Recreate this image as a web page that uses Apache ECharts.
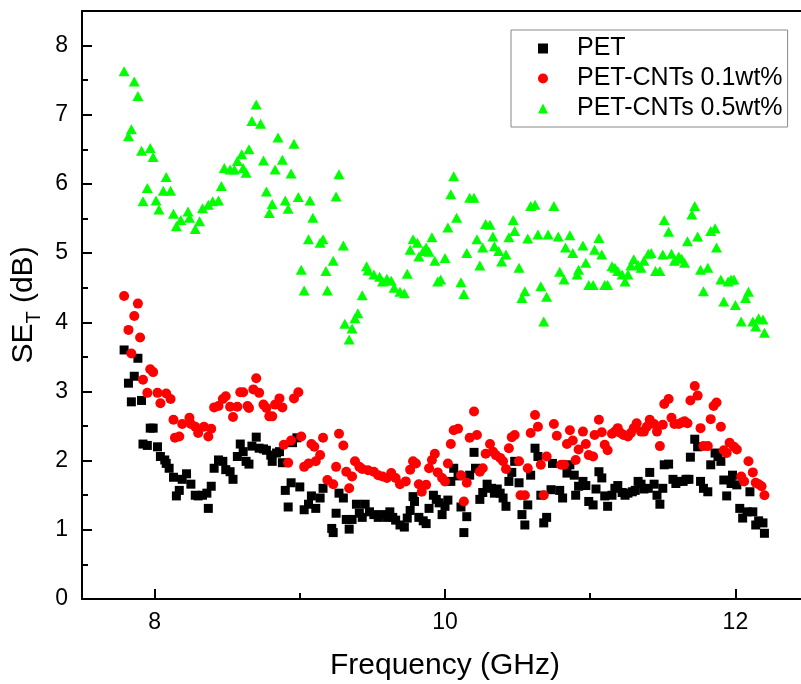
<!DOCTYPE html>
<html>
<head>
<meta charset="utf-8">
<script src="https://cdn.jsdelivr.net/npm/echarts@6/dist/echarts.min.js"></script>
<style>
html,body{margin:0;padding:0;background:#fff;}
#chart{width:801px;height:684px;}
</style>
</head>
<body>
<div id="chart"></div>
<script>
// ---------- data ----------
const seriesNames = ['PET', 'PET-CNTs 0.1wt%', 'PET-CNTs 0.5wt%'];

const petX = [7.79,7.82,7.84,7.86,7.885,7.91,7.92,7.95,7.97,7.99,8.02,8.04,8.07,8.08,8.10,8.13,8.15,8.17,8.19,8.22,8.25,8.28,8.30,8.33,8.36,8.37,8.39,8.41,8.44,8.47,8.49,8.52,8.54,8.57,8.59,8.61,8.63,8.65,8.67,8.70,8.72,8.75,8.77,8.80,8.81,8.84,8.86,8.88,8.90,8.92,8.94,8.95,8.98,9.00,9.03,9.06,9.08,9.11,9.14,9.16,9.22,9.23,9.25,9.27,9.30,9.32,9.34,9.36,9.39,9.41,9.43,9.45,9.48,9.51,9.54,9.57,9.60,9.62,9.64,9.66,9.69,9.72,9.74,9.76,9.78,9.79,9.82,9.85,9.87,9.89,9.92,9.94,9.96,9.98,10.00,10.02,10.04,10.06,10.09,10.11,10.13,10.15,10.17,10.20,10.21,10.24,10.26,10.29,10.32,10.34,10.36,10.38,10.40,10.42,10.44,10.46,10.48,10.51,10.53,10.55,10.57,10.59,10.62,10.64,10.66,10.68,10.70,10.73,10.74,10.79,10.81,10.84,10.86,10.89,10.90,10.92,10.95,10.97,10.99,11.02,11.04,11.06,11.08,11.10,11.12,11.15,11.17,11.19,11.22,11.24,11.26,11.29,11.31,11.33,11.35,11.37,11.40,11.41,11.44,11.46,11.48,11.50,11.51,11.54,11.57,11.59,11.61,11.64,11.66,11.68,11.69,11.72,11.74,11.76,11.78,11.81,11.83,11.86,11.88,11.90,11.92,11.94,11.97,11.98,12.01,12.03,12.05,12.08,12.10,12.12,12.14,12.16,12.19,12.20];
const petY = [3.60,3.12,2.85,3.22,3.48,2.87,2.24,2.22,2.47,2.47,2.20,2.06,2.01,1.96,1.89,1.76,1.49,1.57,1.73,1.81,1.66,1.50,1.49,1.50,1.53,1.31,1.63,1.89,2.01,1.99,1.87,1.84,1.73,2.06,2.24,2.13,1.99,1.95,2.21,2.34,2.18,2.17,2.15,2.08,1.99,2.11,2.13,1.97,1.57,1.33,1.68,2.26,2.33,1.62,1.29,1.37,1.49,1.31,1.46,1.60,1.02,0.96,1.24,1.53,1.46,1.15,1.01,1.15,1.37,1.24,1.18,1.37,1.26,1.22,1.18,1.22,1.18,1.26,1.18,1.14,1.07,1.04,1.17,1.28,1.48,1.41,1.18,1.13,1.09,1.31,1.50,1.44,1.39,1.22,1.34,1.43,1.70,1.89,1.78,1.33,0.96,1.19,1.79,2.12,1.89,1.44,1.54,1.66,1.60,1.53,1.59,1.53,1.46,1.34,1.70,1.83,1.99,1.68,1.22,1.07,1.36,1.79,2.18,2.06,1.50,1.10,1.18,1.58,1.96,1.57,1.46,1.82,1.94,1.79,1.50,1.63,1.70,1.64,1.41,1.36,1.59,1.84,1.75,1.49,1.34,1.50,1.60,1.64,1.54,1.50,1.53,1.55,1.57,1.70,1.66,1.59,1.60,1.83,1.66,1.50,1.37,1.60,1.94,1.95,1.73,1.67,1.70,1.70,1.73,1.73,2.05,2.31,2.20,1.70,1.60,1.55,1.94,2.11,2.06,1.99,1.72,1.49,1.67,1.79,1.65,1.31,1.17,1.26,1.55,1.26,1.07,1.13,1.10,0.95];

const cnt01X = [7.79,7.82,7.84,7.86,7.885,7.90,7.92,7.95,7.97,7.99,8.02,8.04,8.08,8.11,8.13,8.14,8.17,8.19,8.24,8.25,8.28,8.30,8.34,8.37,8.39,8.41,8.44,8.47,8.49,8.52,8.54,8.57,8.59,8.61,8.64,8.65,8.68,8.70,8.72,8.75,8.77,8.79,8.81,8.83,8.86,8.88,8.89,8.92,8.94,8.96,8.99,9.01,9.03,9.06,9.08,9.10,9.11,9.14,9.16,9.19,9.23,9.25,9.27,9.30,9.32,9.34,9.36,9.38,9.41,9.43,9.47,9.51,9.54,9.57,9.60,9.63,9.66,9.69,9.73,9.76,9.78,9.80,9.82,9.84,9.87,9.89,9.91,9.93,9.95,9.98,10.00,10.02,10.04,10.06,10.09,10.11,10.13,10.15,10.17,10.20,10.22,10.24,10.26,10.28,10.31,10.33,10.35,10.38,10.40,10.42,10.44,10.46,10.48,10.51,10.52,10.55,10.57,10.59,10.62,10.64,10.66,10.68,10.70,10.75,10.77,10.80,10.82,10.84,10.86,10.88,10.90,10.92,10.95,10.97,10.99,11.02,11.03,11.06,11.08,11.10,11.12,11.15,11.17,11.19,11.21,11.23,11.26,11.28,11.30,11.32,11.35,11.37,11.39,11.41,11.44,11.46,11.48,11.50,11.51,11.54,11.56,11.58,11.61,11.63,11.65,11.67,11.69,11.72,11.74,11.76,11.78,11.81,11.83,11.85,11.87,11.90,11.92,11.94,11.96,11.99,12.01,12.04,12.06,12.09,12.12,12.14,12.16,12.18,12.20];
const cnt01Y = [4.38,3.89,3.55,4.09,4.27,3.78,3.17,2.98,3.32,3.28,2.98,2.83,2.97,2.89,2.59,2.33,2.35,2.53,2.62,2.53,2.49,2.40,2.49,2.35,2.46,2.77,2.79,2.89,2.93,2.78,2.63,2.78,2.99,2.99,2.79,2.76,3.03,3.19,2.98,2.81,2.76,2.64,2.64,2.81,2.90,2.77,2.23,1.97,2.29,2.90,2.99,2.35,1.91,1.96,2.24,2.20,1.99,2.08,2.33,1.72,1.66,1.91,2.39,2.22,1.84,1.60,1.77,1.99,1.91,1.88,1.86,1.84,1.79,1.77,1.75,1.82,1.75,1.66,1.70,1.87,1.99,1.96,1.66,1.55,1.65,1.89,2.01,2.10,1.83,1.75,1.70,1.96,2.24,2.44,2.46,1.79,1.41,1.68,2.33,2.71,2.37,1.84,1.89,2.10,2.24,2.13,2.08,2.04,1.99,1.88,2.18,2.34,2.37,1.99,1.50,1.50,1.89,2.40,2.66,2.49,1.94,1.50,2.06,2.53,2.36,1.94,1.94,2.24,2.44,2.29,2.01,2.16,2.42,2.24,2.08,2.06,2.37,2.59,2.41,2.23,2.15,2.39,2.42,2.47,2.40,2.37,2.35,2.40,2.47,2.54,2.42,2.42,2.49,2.59,2.53,2.42,2.21,2.52,2.82,2.89,2.62,2.53,2.53,2.55,2.57,2.54,2.87,3.08,2.94,2.47,2.21,2.21,2.60,2.79,2.84,2.49,2.15,2.11,2.26,2.20,2.16,1.77,1.70,1.99,1.83,1.68,1.66,1.63,1.50];

const cnt05X = [7.79,7.82,7.84,7.86,7.885,7.91,7.92,7.95,7.97,7.99,8.01,8.03,8.06,8.08,8.11,8.13,8.15,8.18,8.23,8.24,8.28,8.31,8.33,8.37,8.40,8.44,8.46,8.48,8.52,8.55,8.57,8.60,8.61,8.63,8.65,8.67,8.70,8.73,8.75,8.77,8.79,8.81,8.83,8.85,8.88,8.90,8.92,8.94,8.96,8.99,9.01,9.03,9.06,9.07,9.09,9.14,9.16,9.18,9.19,9.23,9.25,9.27,9.30,9.31,9.34,9.36,9.38,9.40,9.43,9.46,9.47,9.51,9.55,9.57,9.60,9.63,9.65,9.69,9.72,9.74,9.76,9.78,9.81,9.82,9.85,9.87,9.89,9.91,9.93,9.95,9.97,10.00,10.02,10.04,10.06,10.08,10.11,10.13,10.15,10.17,10.20,10.22,10.24,10.26,10.28,10.31,10.33,10.34,10.37,10.39,10.42,10.44,10.47,10.48,10.51,10.53,10.55,10.57,10.59,10.62,10.64,10.66,10.68,10.70,10.71,10.75,10.78,10.79,10.82,10.83,10.86,10.88,10.91,10.92,10.95,10.97,10.99,11.02,11.03,11.06,11.08,11.10,11.12,11.15,11.17,11.19,11.22,11.24,11.26,11.28,11.30,11.33,11.35,11.37,11.40,11.42,11.45,11.48,11.50,11.51,11.54,11.56,11.58,11.61,11.63,11.65,11.67,11.70,11.72,11.74,11.76,11.78,11.81,11.83,11.86,11.87,11.90,11.92,11.95,11.97,11.99,12.00,12.04,12.07,12.09,12.12,12.14,12.16,12.19,12.20];
const cnt05Y = [7.63,6.69,6.79,7.48,7.27,6.48,5.75,5.94,6.52,6.39,5.76,5.63,5.90,6.10,5.90,5.57,5.39,5.48,5.60,5.51,5.35,5.46,5.65,5.70,5.75,5.76,5.97,6.23,6.21,6.21,6.33,6.43,6.23,6.16,6.50,6.91,7.15,6.87,6.34,5.89,5.58,5.71,6.21,6.67,6.35,5.76,5.64,6.15,6.58,5.81,4.76,4.46,5.20,5.76,5.51,5.15,5.20,4.74,4.46,4.89,5.82,6.14,5.11,3.98,3.75,3.91,4.06,4.13,4.39,4.81,4.75,4.69,4.66,4.59,4.63,4.60,4.50,4.44,4.42,4.70,5.05,5.20,5.15,4.95,5.03,5.08,5.02,5.23,4.89,4.59,4.62,4.93,5.37,5.85,6.11,5.51,4.58,4.41,5.00,5.80,5.80,5.20,4.82,5.08,5.42,5.41,5.24,5.10,5.03,4.88,4.98,5.23,5.48,5.32,4.79,4.35,4.45,5.21,5.68,5.70,5.27,4.52,4.01,4.37,5.27,5.68,5.24,4.73,4.62,5.08,5.26,5.00,4.69,4.76,5.11,4.86,4.54,4.54,5.05,5.22,4.98,4.54,4.54,4.81,4.79,4.74,4.69,4.59,4.69,4.82,4.91,4.83,4.79,4.89,4.99,5.00,4.74,4.74,4.98,5.48,5.31,4.99,4.89,4.95,4.92,4.86,5.17,5.56,5.68,5.24,4.76,4.45,4.79,5.32,5.36,5.08,4.62,4.30,4.59,4.62,4.62,4.25,4.01,4.35,4.44,4.01,3.94,4.06,4.04,3.85];

const xMajorTicks = [8, 10, 12];
const xMinorTicks = [9, 11];
const yMajorTicks = [0, 1, 2, 3, 4, 5, 6, 7, 8];
const yMinorTicks = [0.5, 1.5, 2.5, 3.5, 4.5, 5.5, 6.5, 7.5];

// ---------- chart ----------
const FONT = 'Arial, "Liberation Sans", sans-serif';
const zip = (xs, ys) => xs.map((x, i) => [x, ys[i]]);

const chart = echarts.init(document.getElementById('chart'), null, {renderer: 'canvas'});

const xBase = {type: 'value', gridIndex: 0, min: 7.5, max: 12.5, splitLine: {show: false}};
const yBase = {type: 'value', gridIndex: 0, min: 0, max: 8.5, splitLine: {show: false}};

const option = {
  backgroundColor: '#ffffff',
  animation: false,
  grid: {left: 82, top: 11, right: -7, bottom: 85, containLabel: false, outerBoundsMode: 'none', show: false},
  legend: {
    orient: 'vertical', left: 511, top: 30,
    padding: [6, 5, 6, 27], itemGap: 5,
    itemWidth: 10, itemHeight: 10, symbolKeepAspect: true,
    backgroundColor: '#ffffff', borderColor: '#888888', borderWidth: 1, borderRadius: 0,
    formatter: function (name) { return '{t|' + name + '}'; },
    textStyle: {
      fontSize: 25, color: '#000', fontFamily: FONT,
      rich: {t: {fontSize: 25, color: '#000', fontFamily: FONT, padding: [0, 0, 0, 24]}}
    },
    data: seriesNames
  },
  xAxis: [
    Object.assign({}, xBase, {
      position: 'bottom',
      name: 'Frequency (GHz)', nameLocation: 'middle', nameGap: 52,
      nameTextStyle: {fontSize: 30, color: '#000', fontFamily: FONT},
      axisLine: {show: true, onZero: false, lineStyle: {color: '#000', width: 2}},
      axisTick: {show: true, inside: true, length: 10, customValues: xMajorTicks, lineStyle: {color: '#000', width: 2}},
      axisLabel: {show: true, customValues: xMajorTicks, fontSize: 23, color: '#000', fontFamily: FONT, margin: 12}
    }),
    Object.assign({}, xBase, {
      position: 'bottom',
      axisLine: {show: false, onZero: false},
      axisTick: {show: true, inside: true, length: 6, customValues: xMinorTicks, lineStyle: {color: '#000', width: 2}},
      axisLabel: {show: false}
    }),
    Object.assign({}, xBase, {
      position: 'top',
      axisLine: {show: true, onZero: false, lineStyle: {color: '#000', width: 2}},
      axisTick: {show: false},
      axisLabel: {show: false}
    })
  ],
  yAxis: [
    Object.assign({}, yBase, {
      position: 'left',
      name: '{a|SE}{b|T}{a| (dB)}', nameLocation: 'middle', nameGap: 38,
      nameTextStyle: {
        color: '#000', fontFamily: FONT,
        rich: {
          a: {fontSize: 30, color: '#000', fontFamily: FONT, lineHeight: 40, verticalAlign: 'middle'},
          b: {fontSize: 20, color: '#000', fontFamily: FONT, lineHeight: 20, verticalAlign: 'bottom'}
        }
      },
      axisLine: {show: true, onZero: false, lineStyle: {color: '#000', width: 2}},
      axisTick: {show: true, inside: true, length: 10, customValues: yMajorTicks, lineStyle: {color: '#000', width: 2}},
      axisLabel: {show: true, customValues: yMajorTicks, fontSize: 23, color: '#000', fontFamily: FONT, margin: 14}
    }),
    Object.assign({}, yBase, {
      position: 'left',
      axisLine: {show: false, onZero: false},
      axisTick: {show: true, inside: true, length: 6, customValues: yMinorTicks, lineStyle: {color: '#000', width: 2}},
      axisLabel: {show: false}
    })
  ],
  series: [
    {
      name: seriesNames[0], type: 'scatter', xAxisIndex: 0, yAxisIndex: 0,
      symbol: 'rect', symbolSize: 9,
      itemStyle: {color: '#000000', opacity: 1},
      data: zip(petX, petY)
    },
    {
      name: seriesNames[1], type: 'scatter', xAxisIndex: 0, yAxisIndex: 0,
      symbol: 'circle', symbolSize: 10,
      itemStyle: {color: '#ff0000', opacity: 1},
      data: zip(cnt01X, cnt01Y)
    },
    {
      name: seriesNames[2], type: 'scatter', xAxisIndex: 0, yAxisIndex: 0,
      symbol: 'triangle', symbolSize: [11, 10],
      itemStyle: {color: '#00ff00', opacity: 1},
      data: zip(cnt05X, cnt05Y)
    }
  ]
};

chart.setOption(option);
</script>
</body>
</html>
